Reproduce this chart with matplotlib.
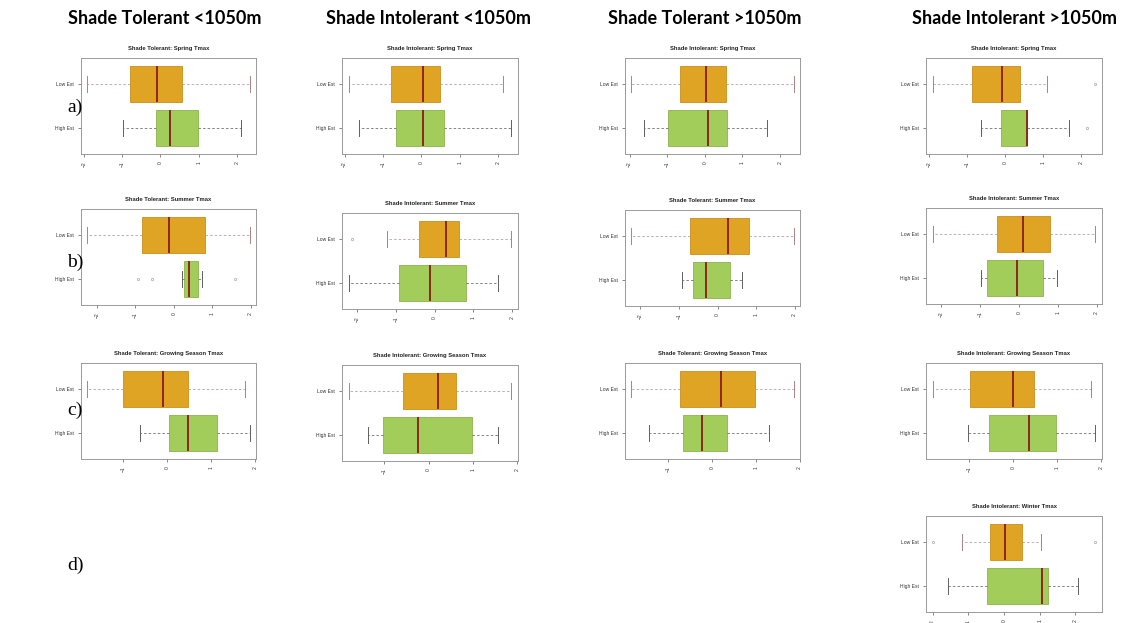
#!/usr/bin/env python
"""Standardised Tmax anomalies at low vs high establishment sites, by shade
tolerance and elevation band (columns) and by season (rows)."""

import matplotlib

matplotlib.use("Agg")
import matplotlib.pyplot as plt
from matplotlib.ticker import MultipleLocator

COLUMN_HEADERS = ["Shade Tolerant <1050m", "Shade Intolerant <1050m",
                  "Shade Tolerant >1050m", "Shade Intolerant >1050m"]
ROW_LABELS = ["a)", "b)", "c)", "d)"]
GROUP_LABELS = ["High Est", "Low Est"]

# one entry per panel: a1..a4, b1..b4, c1..c4, d4
TITLES = [
    "Shade Tolerant: Spring Tmax", "Shade Intolerant: Spring Tmax",
    "Shade Intolerant: Spring Tmax", "Shade Intolerant: Spring Tmax",
    "Shade Tolerant: Summer Tmax", "Shade Intolerant: Summer Tmax",
    "Shade Tolerant: Summer Tmax", "Shade Intolerant: Summer Tmax",
    "Shade Tolerant: Growing Season Tmax", "Shade Intolerant: Growing Season Tmax",
    "Shade Tolerant: Growing Season Tmax", "Shade Intolerant: Growing Season Tmax",
    "Shade Intolerant: Winter Tmax",
]

# Low Est box statistics
LOW_WHISLO = [-1.91, -1.90, -1.95, -1.92, -2.25, -1.24, -2.23, -2.22, -1.82, -1.81, -1.84, -1.83, -1.17]
LOW_Q1 = [-0.80, -0.78, -0.65, -0.88, -0.82, -0.41, -0.71, -0.57, -1.02, -0.58, -0.73, -0.97, -0.39]
LOW_MED = [-0.10, 0.04, 0.03, -0.07, -0.13, 0.29, 0.28, 0.10, -0.09, 0.21, 0.20, 0.00, 0.03]
LOW_Q3 = [0.57, 0.48, 0.57, 0.40, 0.80, 0.64, 0.81, 0.81, 0.48, 0.62, 0.98, 0.47, 0.50]
LOW_WHISHI = [2.33, 2.14, 2.36, 1.12, 1.97, 1.98, 1.97, 1.97, 1.78, 1.87, 1.86, 1.78, 1.03]
LOW_FLIERS = [[], [], [], [2.39], [], [-2.13], [], [], [], [], [], [], [-2.00, 2.56]]

# High Est box statistics
HIGH_WHISLO = [-0.97, -1.62, -1.62, -0.65, 0.22, -2.22, -0.93, -0.97, -0.62, -1.36, -1.44, -1.03, -1.56]
HIGH_Q1 = [-0.12, -0.66, -0.98, -0.11, 0.27, -0.92, -0.64, -0.83, 0.04, -1.03, -0.66, -0.54, -0.47]
HIGH_MED = [0.26, 0.05, 0.09, 0.58, 0.39, -0.12, -0.30, -0.05, 0.47, -0.23, -0.24, 0.36, 1.05]
HIGH_Q3 = [0.98, 0.59, 0.59, 0.59, 0.63, 0.81, 0.32, 0.63, 1.14, 0.98, 0.34, 0.99, 1.22]
HIGH_WHISHI = [2.12, 2.35, 1.65, 1.70, 0.72, 1.62, 0.63, 0.98, 1.88, 1.56, 1.29, 1.88, 2.06]
HIGH_FLIERS = [[], [], [], [2.17], [-0.94, -0.58, 1.59], [], [], [], [], [], [], [], []]

# grid cell (row, col) of each panel
CELLS = [(0, 0), (0, 1), (0, 2), (0, 3), (1, 0), (1, 1), (1, 2), (1, 3),
         (2, 0), (2, 1), (2, 2), (2, 3), (3, 3)]

W, H = 1140, 623
COL_LEFT = [81, 342, 625, 926]
COL_WIDTH = [175, 176, 175, 176]
ROW_TOP = [[58, 209, 363], [58, 213, 365], [58, 210, 363], [58, 208, 363, 516]]
PANEL_H = 96

LOW_STYLE = dict(face="#dfa424", edge="#c8901c", whisk="#b8a0a0", cap="#a88484")
HIGH_STYLE = dict(face="#a2cd5a", edge="#8db24a", whisk="#707070", cap="#606060")
MED_COLOR = "#8b1a1a"
PANEL_FONT = ["Liberation Sans", "DejaVu Sans"]


def box_stats(i, low):
    if low:
        return dict(whislo=LOW_WHISLO[i], q1=LOW_Q1[i], med=LOW_MED[i],
                    q3=LOW_Q3[i], whishi=LOW_WHISHI[i], fliers=LOW_FLIERS[i])
    return dict(whislo=HIGH_WHISLO[i], q1=HIGH_Q1[i], med=HIGH_MED[i],
                q3=HIGH_Q3[i], whishi=HIGH_WHISHI[i], fliers=HIGH_FLIERS[i])


def draw_group(ax, stats, pos, st):
    ax.bxp([stats], positions=[pos], widths=0.8, orientation="horizontal",
           patch_artist=True, capwidths=0.35,
           boxprops=dict(facecolor=st["face"], edgecolor=st["edge"], lw=0.6),
           medianprops=dict(color=MED_COLOR, lw=1.3),
           whiskerprops=dict(color=st["whisk"], lw=0.6, ls=(0, (3, 2.5))),
           capprops=dict(color=st["cap"], lw=0.7),
           flierprops=dict(marker="o", ms=1.6, mfc="none", mec="#909090", mew=0.4))


def main():
    fig = plt.figure(figsize=(W / 100, H / 100), dpi=100)

    for i, (r, c) in enumerate(CELLS):
        left, width, top = COL_LEFT[c], COL_WIDTH[c], ROW_TOP[c][r]
        ax = fig.add_axes([left / W, 1 - (top + PANEL_H) / H, width / W, PANEL_H / H])

        low, high = box_stats(i, True), box_stats(i, False)
        draw_group(ax, high, 1, HIGH_STYLE)
        draw_group(ax, low, 2, LOW_STYLE)

        # R-style limits: data range padded by 4 %
        vals = [low["whislo"], low["whishi"], high["whislo"], high["whishi"]]
        vals += low["fliers"] + high["fliers"]
        lo, hi = min(vals), max(vals)
        pad = 0.04 * (hi - lo)
        ax.set_xlim(lo - pad, hi + pad)
        ax.set_ylim(0.42, 2.58)

        ax.xaxis.set_major_locator(MultipleLocator(1))
        ax.set_yticks([1, 2])
        ax.set_yticklabels(GROUP_LABELS)
        ax.tick_params(axis="both", direction="out", length=2.5, width=0.5,
                       color="#555555", labelsize=3.6, pad=2.5, labelcolor="#333333")
        for lab in ax.get_xticklabels():
            lab.set_rotation(90)
            lab.set_family(PANEL_FONT)
        for lab in ax.get_yticklabels():
            lab.set_family(PANEL_FONT)
        for sp in ax.spines.values():
            sp.set_color("#9a9a9a")
            sp.set_linewidth(0.7)

        ax.set_title(TITLES[i], fontsize=4.2, fontweight="bold", pad=6,
                     family=PANEL_FONT, color="#222222")

    # column headers and row letters
    header_x = [165, 428, 705, 1014]
    for x, txt in zip(header_x, COLUMN_HEADERS):
        fig.text(x / W, 1 - 18 / H, txt, ha="center", va="center",
                 fontsize=13, fontweight="bold", family=["Lato", "DejaVu Sans"])
    row_y = [107, 262, 410, 565]
    for y, txt in zip(row_y, ROW_LABELS):
        fig.text(75 / W, 1 - y / H, txt, ha="center", va="center",
                 fontsize=14, family=["Liberation Serif", "DejaVu Serif"])

    fig.savefig("out.png", dpi=100)
    plt.close(fig)


if __name__ == "__main__":
    main()
